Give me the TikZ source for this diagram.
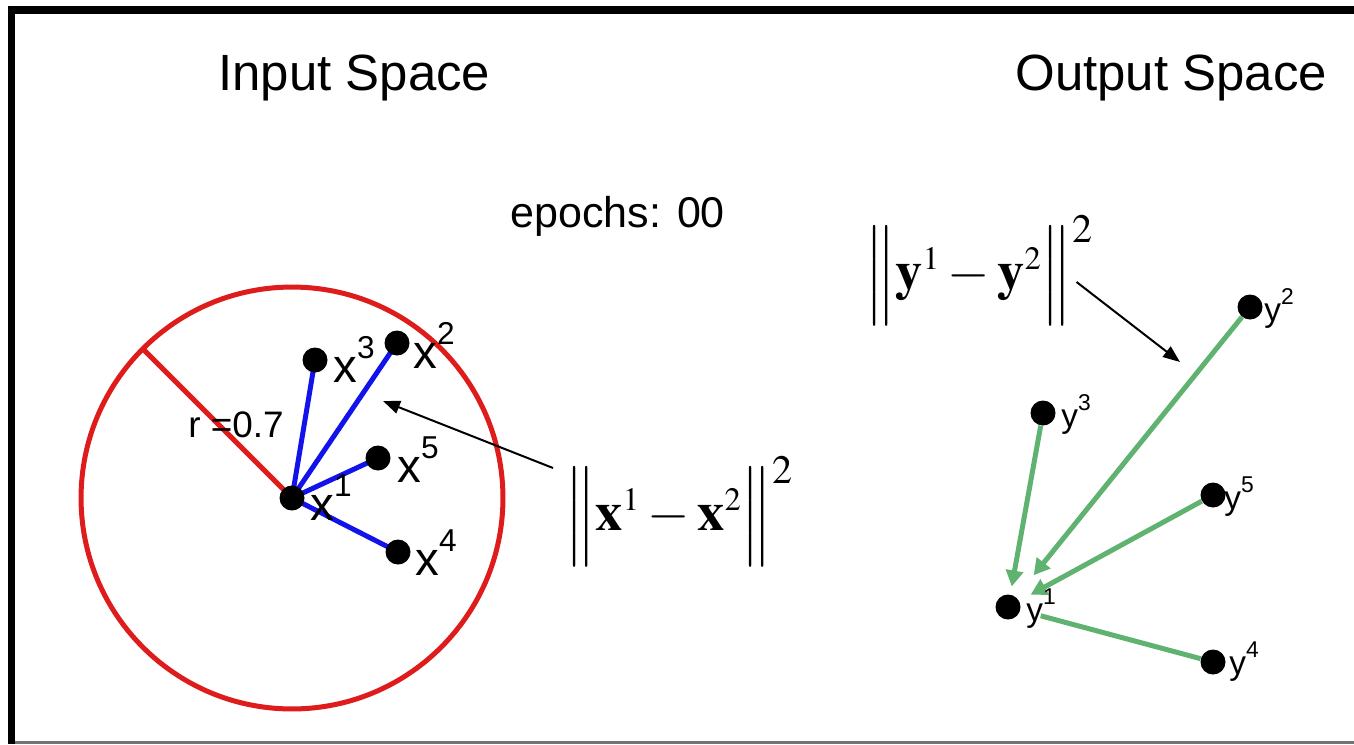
\documentclass[tikz,border=0pt]{standalone}
\usepackage{amsmath}
\usepackage{mathptmx}
\usepackage[no-math]{fontspec}
\newfontfamily\arialf{Liberation Sans}
\usetikzlibrary{arrows.meta,positioning,backgrounds}
\definecolor{circred}{RGB}{222,28,28}
\definecolor{linkblue}{RGB}{18,18,235}
\definecolor{mapgreen}{RGB}{96,178,112}
\newcommand{\xsup}[1]{\raisebox{0.5em}{\fontsize{18}{18}\selectfont #1}}
\newcommand{\ysup}[1]{\raisebox{0.5em}{\fontsize{13}{14}\selectfont #1}}
\newcommand{\sqdist}[2]{$\left\|\vcenter{\hbox{\vrule height #2 depth #2 width 0pt}}\mathbf{#1}^{\scriptscriptstyle 1}-\mathbf{#1}^{\scriptscriptstyle 2}\right\|^{2}$}

\begin{document}
\begin{tikzpicture}[x=0.02cm,y=-0.02cm,
  dot/.style={circle,fill=black,inner sep=0pt,minimum size=0.5cm},
  title/.style={font=\arialf\fontsize{29}{32}\selectfont,anchor=base west,inner sep=0pt},
  xlab/.style={font=\arialf\fontsize{27}{30}\selectfont,anchor=base west,inner sep=0pt},
  ylab/.style={font=\arialf\fontsize{19}{22}\selectfont,anchor=base west,inner sep=0pt},
  dist/.style={font=\fontsize{31}{38}\selectfont,anchor=west,inner sep=0pt},
  link/.style={linkblue,line width=0.1cm},
  pull/.style={mapgreen,line width=0.1cm,-{Triangle[length=0.32cm,width=0.34cm]}},
  pointer/.style={line width=0.04cm,-{Triangle[length=0.34cm,width=0.26cm]}}]
  \useasboundingbox (0,0) rectangle (1354,744);
  % frame
  \fill (8,6) rectangle (1354,14);
  \fill (8,6) rectangle (15,744);
  \fill[black!55] (15,741) rectangle (1354,744);

  % titles
  \node[title] (tin) at (218,90) {Input Space};
  \node[title] (tout) at (1015,90) {Output Space};
  \node[title,font=\arialf\fontsize{24.5}{28}\selectfont] (ep) at (510,227) {epochs: 00};

  % input space
  \foreach \n/\px/\py in {1/292/498,2/397/343,3/315/360,4/398/552,5/378/458}
    \node[dot] (x\n) at (\px,\py) {};
  \path (x1.center) ++(135:4.22cm) coordinate (rim);
  \begin{scope}[on background layer]
    \draw[circred,line width=0.1cm] (x1.center) circle[radius=4.22cm];
    \draw[circred,line width=0.1cm] (x1.center) -- (rim);
    \foreach \n in {2,...,5}
      \draw[link] (x1.center) -- (x\n.center);
  \end{scope}
  \node[xlab,font=\arialf\fontsize{21}{24}\selectfont] (rad) at (188,437) {r =0.7};
  \node[xlab] (lx1) at (310,520) {x\xsup{1}};
  \node[xlab] (lx2) at (413,368) {x\xsup{2}};
  \node[xlab] (lx3) at (333,382) {x\xsup{3}};
  \node[xlab] (lx4) at (415,575) {x\xsup{4}};
  \node[xlab] (lx5) at (397,482) {x\xsup{5}};

  % output space
  \foreach \n/\px/\py in {1/1008/607,2/1250/307,3/1043/413,4/1213/662,5/1213/495}
    \node[dot] (y\n) at (\px,\py) {};
  \begin{scope}[on background layer]
    \draw[pull,shorten >=0.16cm] (y3) -- (y1);
    \draw[pull,shorten >=0.56cm] (y2) -- (y1);
    \draw[pull,shorten >=0.26cm] (y5) -- (y1);
    \draw[mapgreen,line width=0.1cm,shorten >=0.42cm] (y4) -- (y1);
  \end{scope}
  \node[ylab] (ly1) at (1026,621) {y\ysup{1}};
  \node[ylab] (ly2) at (1264,321) {y\ysup{2}};
  \node[ylab] (ly3) at (1061,427) {y\ysup{3}};
  \node[ylab] (ly4) at (1229,674) {y\ysup{4}};
  \node[ylab] (ly5) at (1224,509) {y\ysup{5}};

  % distances
  \node[dist] (dx) at (565,511) {\sqdist{x}{27pt}};
  \node[dist] (dy) at (865,270) {\sqdist{y}{21.5pt}};
  \coordinate (xhit) at (383,401);
  \coordinate (yhit) at (1180,362);
  \draw[pointer] ([shift={(-12,-43)}]dx.west) -- (xhit);
  \draw[pointer] ([shift={(-17,12)}]dy.east) -- (yhit);
\end{tikzpicture}
\end{document}
